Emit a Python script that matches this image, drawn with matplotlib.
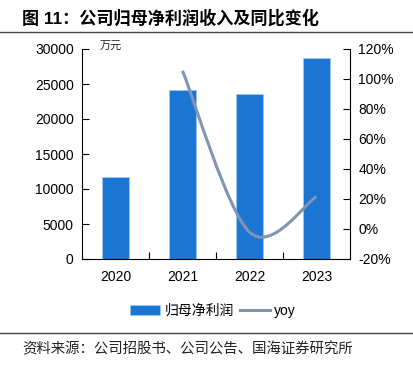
import matplotlib
matplotlib.use("Agg")
import matplotlib.pyplot as plt
from matplotlib.path import Path
from matplotlib.patches import PathPatch, Patch
from matplotlib.lines import Line2D
from matplotlib.ticker import FuncFormatter
import numpy as np

plt.rcParams['font.family'] = ['Liberation Sans', 'Noto Sans CJK SC', 'DejaVu Sans']

years = ["2020", "2021", "2022", "2023"]
profit = [11700, 24100, 23600, 28700]          # 万元
yoy = [None, 105.5, -2.1, 21.6]                # %

bar_color = "#1a76d2"
line_color = "#7f95b3"

fig = plt.figure(figsize=(4.13, 3.68), dpi=100)
W, H = 413, 368
ax = fig.add_axes([82 / W, 1 - 259 / H, (350 - 82) / W, (259 - 49) / H])
ax2 = ax.twinx()

x = np.arange(len(years))
ax.bar(x, profit, width=0.4, color=bar_color, edgecolor="#9cc6ee", linewidth=0.6, zorder=2)
ax.set_xlim(-0.5, len(years) - 0.5)
ax.set_ylim(0, 30000)
ax.set_yticks(np.arange(0, 30001, 5000))
ax.set_xticks(x)
ax.set_xticklabels(years)
ax.set_xticks(np.arange(0.5, len(years) - 0.5, 1), minor=True)
ax.tick_params(axis='x', which='major', length=0, pad=8, labelsize=10)
ax.tick_params(axis='x', which='minor', length=5, direction='in', width=0.8)
ax.tick_params(axis='y', length=5, direction='in', width=0.8, labelsize=10, pad=6)
for s in ['top', 'right']:
    ax.spines[s].set_visible(False)
ax.spines['left'].set_linewidth(0.8)
ax.spines['bottom'].set_linewidth(0.8)

# smoothed yoy line (Excel-style bezier through data points)
px = [xi for xi, v in zip(x, yoy) if v is not None]
py = [v for v in yoy if v is not None]
P = np.column_stack([px, py]).astype(float)
n = len(P)
verts = [tuple(P[0])]
codes = [Path.MOVETO]
for i in range(n - 1):
    p0 = P[i - 1] if i > 0 else P[i]
    p1 = P[i]
    p2 = P[i + 1]
    p3 = P[i + 2] if i + 2 < n else P[i + 1]
    c1 = p1 + (p2 - p0) / 6
    c2 = p2 - (p3 - p1) / 6
    verts += [tuple(c1), tuple(c2), tuple(p2)]
    codes += [Path.CURVE4] * 3
ax2.add_patch(PathPatch(Path(verts, codes), facecolor='none', edgecolor=line_color,
                        linewidth=2.2, zorder=3, capstyle='butt'))
ax2.set_ylim(-20, 120)
ax2.set_yticks(np.arange(-20, 121, 20))
ax2.yaxis.set_major_formatter(FuncFormatter(lambda v, p: f"{v:.0f}%"))
ax2.tick_params(axis='y', length=5, direction='in', width=0.8, labelsize=10, pad=6)
for s in ['top', 'left', 'bottom']:
    ax2.spines[s].set_visible(False)
ax2.spines['right'].set_linewidth(0.8)

ax.text(100 / W, 1 - 47 / H, "万元", transform=fig.transFigure, fontsize=8,
        style='italic', va='center', ha='left', color="#222222")

# title and rules
fig.text(22 / W, 1 - 18 / H, "图 11：公司归母净利润收入及同比变化", fontsize=12.3,
         fontweight='bold', va='center', ha='left')
fig.add_artist(Line2D([0, 1], [1 - 31.5 / H, 1 - 31.5 / H], color='#444444', linewidth=1.0,
                      transform=fig.transFigure))
fig.add_artist(Line2D([0, 1], [1 - 333 / H, 1 - 333 / H], color='#444444', linewidth=1.0,
                      transform=fig.transFigure))
fig.text(22 / W, 1 - 349 / H, "资料来源：公司招股书、公司公告、国海证券研究所", fontsize=10.4,
         va='center', ha='left', color='#222222')

handles = [Patch(facecolor=bar_color, edgecolor="#9cc6ee", linewidth=0.6),
           Line2D([0], [0], color=line_color, linewidth=2.2)]
fig.legend(handles, ["归母净利润", "yoy"], loc='center', bbox_to_anchor=(213 / W, 1 - 311 / H),
           ncol=2, frameon=False, fontsize=10, handlelength=2.2, handletextpad=0.3,
           columnspacing=0.4)

fig.savefig("out.png", dpi=100)
